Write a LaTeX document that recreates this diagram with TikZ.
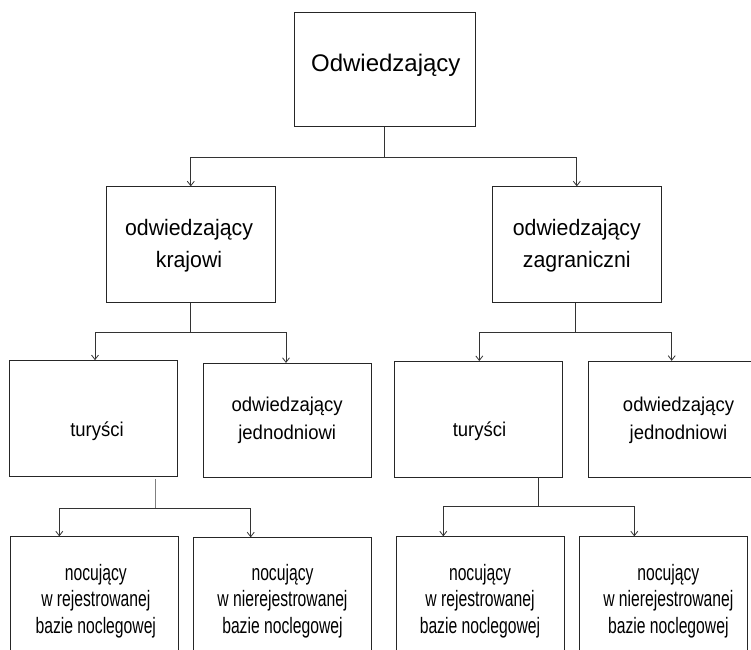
\documentclass[tikz,border=0pt]{standalone}
\usepackage{fontspec}
\usepackage{graphicx}
\setmainfont{Liberation Sans}
\usetikzlibrary{arrows.meta}
% centred lines, stretched vertically by #1; the baseline is that of the last line
\newcommand{\tallstack}[2]{\scalebox{1}[#1]{\begin{tabular}[b]{@{}c@{}}#2\end{tabular}}}
\begin{document}
\begin{tikzpicture}[x=1pt,y=-1pt,
  box/.style={draw=black!85,line width=0.8pt,rectangle,inner sep=0pt,
              minimum width=#1,minimum height=115.5pt},
  box/.default=168.4pt,
  link/.style={draw=black!80,line width=0.8pt},
  arr/.style={link,-{Straight Barb[length=4.5pt,width=7pt,line width=0.8pt]}},
  lvla/.style={font=\fontsize{24}{28}\selectfont,anchor=base,inner sep=0pt},
  lvlb/.style={font=\fontsize{21.3}{30.2}\selectfont,anchor=base,inner sep=0pt},
  lvlc/.style={font=\fontsize{18.5}{25.6}\selectfont,anchor=base,inner sep=0pt},
  lvld/.style={font=\fontsize{15.7}{18.6}\selectfont,anchor=base,inner sep=0pt}]
\useasboundingbox (0,0) rectangle (751,649);
\clip (0,0) rectangle (751,649);

% boxes
\node[box=180.7pt,minimum height=114.4pt] (root) at (384.7,69.5) {};
\node[box] (kraj) at (190.8,244.5) {};
\node[box] (zagr) at (576.8,244.5) {};
\node[box] (turk) at (93.2,418.3) {};
\node[box,minimum height=114pt] (jedk) at (287.5,420.3) {};
\node[box] (turz) at (478.5,419.2) {};
\node[box,minimum height=116pt] (jedz) at (672.5,419.2) {};
\node[box] (rejk) at (94.2,594.5) {};
\node[box=178.4pt] (nrek) at (282.5,595.5) {};
\node[box] (rejz) at (480.2,594.5) {};
\node[box] (nrez) at (663.5,594.5) {};

% labels
\node[lvla] (troot) at (385.8,71.7) {Odwiedzający};
\node[lvlb] (tkraj) at (189,267.5) {\tallstack{1.05}{odwiedzający\\krajowi}};
\node[lvlb] (tzagr) at (576.8,267.5) {\tallstack{1.05}{odwiedzający\\zagraniczni}};
\node[lvlc] (tturk) at (97,436.7) {\tallstack{1.08}{turyści}};
\node[lvlc] (tjedk) at (287.2,439.5) {\tallstack{1.08}{odwiedzający\\jednodniowi}};
\node[lvlc] (tturz) at (479.5,436.7) {\tallstack{1.08}{turyści}};
\node[lvlc] (tjedz) at (678.5,439.5) {\tallstack{1.08}{odwiedzający\\jednodniowi}};
\node[lvld] (trejk) at (95.8,633) {\tallstack{1.42}{nocujący\\w rejestrowanej\\bazie noclegowej}};
\node[lvld] (tnrek) at (282.5,633) {\tallstack{1.42}{nocujący\\w nierejestrowanej\\bazie noclegowej}};
\node[lvld] (trejz) at (480,633) {\tallstack{1.42}{nocujący\\w rejestrowanej\\bazie noclegowej}};
\node[lvld] (tnrez) at (668.3,633) {\tallstack{1.42}{nocujący\\w nierejestrowanej\\bazie noclegowej}};

% root -> first level
\coordinate (j0) at ([yshift=-30.5]root.south);
\draw[link] (root.south) -- (j0);
\draw[arr] (j0) -| (kraj.north);
\draw[arr] (j0) -| (zagr.north);

% domestic -> second level
\coordinate (j1) at ([yshift=-30]kraj.south);
\draw[link] (kraj.south) -- (j1);
\draw[arr] (j1) -| ([xshift=1.8]turk.north);
\draw[arr] (j1) -| ([xshift=-1.5]jedk.north);

% foreign -> second level
\coordinate (j2) at ([yshift=-29.5,xshift=-1]zagr.south);
\draw[link] ([xshift=-1]zagr.south) -- (j2);
\draw[arr] (j2) -| ([xshift=0.8]turz.north);
\draw[arr] (j2) -| ([xshift=-0.8]jedz.north);

% domestic tourists -> overnight stays
\coordinate (s3) at ([xshift=61.8,yshift=-3]turk.south);
\coordinate (j3) at ([xshift=61.8,yshift=-31.7]turk.south);
\coordinate (e3a) at ([xshift=-34.9]rejk.north);
\coordinate (e3b) at ([xshift=-31.8]nrek.north);
\draw[link,draw=black!50] (s3) -- (j3);
\draw[arr] (j3) -| (e3a);
\draw[arr] (j3) -| (e3b);

% foreign tourists -> overnight stays
\coordinate (j4) at ([xshift=59.8,yshift=-29]turz.south);
\coordinate (e4a) at ([xshift=-36.9]rejz.north);
\coordinate (e4b) at ([xshift=-29.2]nrez.north);
\draw[link] ([xshift=59.8]turz.south) -- (j4);
\draw[arr] (j4) -| (e4a);
\draw[arr] (j4) -| (e4b);
\end{tikzpicture}
\end{document}
